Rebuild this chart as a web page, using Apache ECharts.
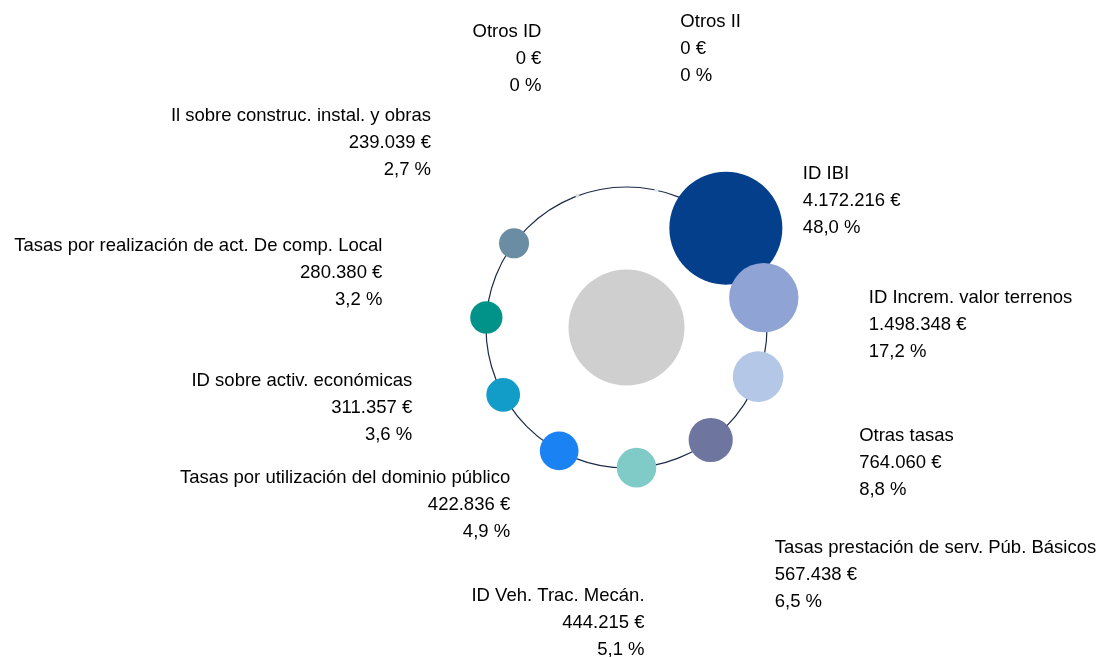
<!DOCTYPE html>
<html>
<head>
<meta charset="utf-8">
<script src="https://cdn.jsdelivr.net/npm/echarts@6/dist/echarts.min.js"></script>
<style>
html,body{margin:0;padding:0;background:#fff;}
#chart{width:1101px;height:657px;}
</style>
</head>
<body>
<div id="chart"></div>
<script>
// Data (clockwise from the largest bubble)
const categories = [
  'ID IBI',
  'ID Increm. valor terrenos',
  'Otras tasas',
  'Tasas prestación de serv. Púb. Básicos',
  'ID Veh. Trac. Mecán.',
  'Tasas por utilización del dominio público',
  'ID sobre activ. económicas',
  'Tasas por realización de act. De comp. Local',
  'Il sobre construc. instal. y obras',
  'Otros ID',
  'Otros II'
];
const amounts = [4172216, 1498348, 764060, 567438, 444215, 422836, 311357, 280380, 239039, 0, 0];
const percents = [48.0, 17.2, 8.8, 6.5, 5.1, 4.9, 3.6, 3.2, 2.7, 0, 0];

// Styles
const colors = ['#033f8b', '#8fa4d4', '#b4c7e7', '#6e76a0', '#80cbc8', '#1a82f2', '#129dc8', '#01928a', '#6b8da3', '#dcdcdc', '#e6e9f8'];
// label anchor offsets from the bubble centre [dx, dy(top), align]
const labelOffsets = [
  [77, -68, 'left'],
  [105, -13, 'left'],
  [101, 46, 'left'],
  [64, 94, 'left'],
  [8, 115, 'right'],
  [-49, 14, 'right'],
  [-91, -27, 'right'],
  [-104, -85, 'right'],
  [-83, -141, 'right'],
  [-36, -177, 'right'],
  [24, -182, 'left']
];

function fmtInt(v) {
  return String(Math.round(v)).replace(/\B(?=(\d{3})+(?!\d))/g, '.');
}
function fmtPct(p) {
  return p === 0 ? '0 %' : p.toFixed(1).replace('.', ',') + ' %';
}
const maxAmount = Math.max.apply(null, amounts);

// position on the ring = category index (angle axis spans all categories)
const bubbleData = categories.map((c, i) => ({
  name: c,
  value: [1, i],
  symbolSize: 4 + 109 * Math.sqrt(amounts[i] / maxAmount),
  itemStyle: { color: colors[i], opacity: 1 }
}));

const chart = echarts.init(document.getElementById('chart'), null, { renderer: 'canvas' });
chart.setOption({
  animation: false,
  backgroundColor: '#ffffff',
  polar: { center: [626.5, 327.5], radius: 140.5 },
  angleAxis: {
    type: 'value',
    min: 0,
    max: categories.length,
    startAngle: 45,
    clockwise: true,
    axisLine: { show: true, lineStyle: { color: '#1b2a47', width: 1.2 } },
    axisTick: { show: false },
    axisLabel: { show: false },
    splitLine: { show: false }
  },
  radiusAxis: {
    type: 'value', min: 0, max: 1,
    axisLine: { show: false }, axisTick: { show: false },
    axisLabel: { show: false }, splitLine: { show: false }
  },
  series: [
    {
      type: 'scatter',
      coordinateSystem: 'polar',
      symbol: 'circle',
      silent: true,
      data: [{ value: [0, 0], symbolSize: 116, itemStyle: { color: '#cfcfcf', opacity: 1 } }],
      z: 2
    },
    {
      type: 'scatter',
      coordinateSystem: 'polar',
      symbol: 'circle',
      data: bubbleData,
      z: 3,
      itemStyle: { opacity: 1 },
      label: {
        show: true,
        position: 'inside',
        fontFamily: 'Liberation Sans, Arial, sans-serif',
        fontSize: 18.5,
        lineHeight: 27,
        color: '#000000',
        opacity: 1,
        formatter: (p) => categories[p.dataIndex] + '\n' + fmtInt(amounts[p.dataIndex]) + ' €\n' + fmtPct(percents[p.dataIndex])
      },
      labelLayout: (params) => {
        const r = params.rect;
        const o = labelOffsets[params.dataIndex];
        return {
          x: r.x + r.width / 2 + o[0],
          y: r.y + r.height / 2 + o[1],
          align: o[2],
          verticalAlign: 'top'
        };
      }
    }
  ]
});
</script>
</body>
</html>
